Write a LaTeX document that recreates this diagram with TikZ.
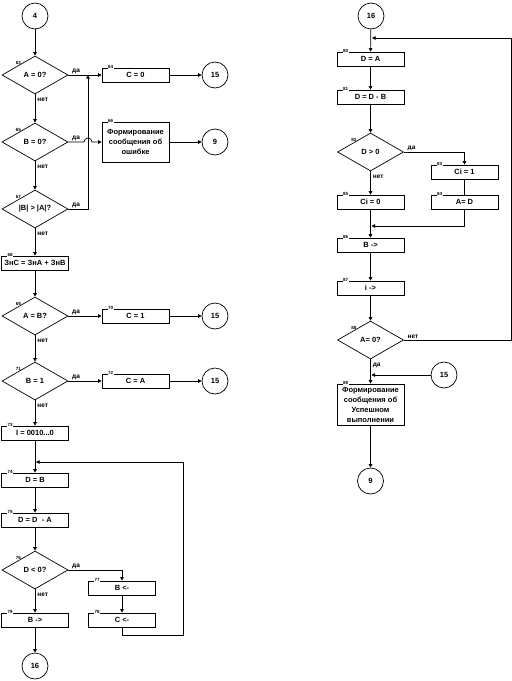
\documentclass[tikz,border=0pt]{standalone}
\usepackage{fontspec}
\setmainfont{Liberation Sans}
\usetikzlibrary{shapes.geometric,arrows.meta}
\begin{document}
\begin{tikzpicture}[x=1pt, y=-1pt, >={Triangle[length=3.5pt,width=3.5pt]}, line width=0.7pt,
    blk/.style={draw, minimum width=67pt, minimum height=14pt, inner sep=1pt, align=center, font=\bfseries\fontsize{7.5}{10}\selectfont},
    cond/.style={draw, diamond, aspect=1.7, inner sep=0pt, minimum width=66pt, minimum height=38pt, font=\bfseries\fontsize{7.5}{9}\selectfont},
    term/.style={draw, circle, inner sep=0pt, minimum size=26pt, font=\bfseries\fontsize{7.5}{9}\selectfont},
    num/.style={fill=white, inner sep=0.6pt, font=\bfseries\fontsize{4.5}{4.5}\selectfont},
    yes/.style={anchor=south west, inner sep=0.5pt, xshift=3pt, yshift=0.5pt, font=\bfseries\fontsize{6.5}{7}\selectfont},
    no/.style={pos=0, anchor=north west, inner sep=0.5pt, xshift=1.5pt, yshift=-3pt, font=\bfseries\fontsize{6.5}{7}\selectfont}]
\useasboundingbox (0,0) rectangle (512,681);
\node[term] (c4) at (35,16) {4};
\node[cond] (d63) at (35,75) {A = 0?};
\node[blk] (b64) at (135.5,75) {C = 0};
\node[term] (c15a) at (215,75) {15};
\node[cond] (d65) at (35,142) {B = 0?};
\node[blk, minimum height=40pt] (b66) at (135.5,142) {Формирование\\сообщения об\\ошибке};
\node[term] (c9a) at (215,142) {9};
\node[cond] (d67) at (35,209) {|B| > |A|?};
\node[blk] (b68) at (35,263) {ЗнС = ЗнА + ЗнВ};
\node[cond] (d69) at (35,316) {A = B?};
\node[blk] (b70) at (135.5,316) {C = 1};
\node[term] (c15b) at (215,316) {15};
\node[cond] (d71) at (35,381) {B = 1};
\node[blk] (b72) at (135.5,381) {C = A};
\node[term] (c15c) at (215,381) {15};
\node[blk] (b73) at (35,433) {I = 0010...0};
\node[blk] (b74) at (35,480) {D = B};
\node[blk] (b75) at (35,520) {D = D \ - A};
\node[cond] (d76) at (35,570) {D < 0?};
\node[blk] (b77) at (122,588) {B <-};
\node[blk] (b78) at (122,620) {C <-};
\node[blk] (b79) at (35,620) {B ->};
\node[term] (c16a) at (35,666) {16};
\node[term] (c16b) at (371,16) {16};
\node[blk] (b80) at (370.5,59) {D = A};
\node[blk] (b81) at (370.5,97) {D = D - B};
\node[cond] (d82) at (370.5,152) {D > 0};
\node[blk] (b83) at (464.5,172) {Ci = 1};
\node[blk] (b84) at (464.5,202) {A= D};
\node[blk] (b85) at (370.5,202) {Ci = 0};
\node[blk] (b86) at (370.5,245) {B ->};
\node[blk] (b87) at (370.5,288) {i ->};
\node[cond] (d88) at (370.5,340) {A= 0?};
\node[term] (c15d) at (444,375) {15};
\node[blk, minimum height=41pt] (b89) at (370.5,404.5) {Формирование\\сообщения об\\Успешном\\выполнении};
\node[term] (c9b) at (370.5,481) {9};
\foreach \b in {64,66,68,70,72,73,74,75,77,78,79,80,81,83,84,85,86,87,89}
    \node[num] (t\b) at ([xshift=9pt,yshift=1pt]b\b.north west) {\b};
\foreach \d in {63,65,67,69,71,76,82,88}
    \node[num, fill=none, anchor=south] (t\d) at (d\d.north west) {\d};
\coordinate (jmp) at (84,142);
\coordinate (j67) at (88,75);
\coordinate (j74) at (36,462);
\coordinate (r78) at (183,635);
\coordinate (j80) at (372,38);
\coordinate (j86) at (371.5,226);
\coordinate (r88) at (511.5,340);
\coordinate (j89) at (371.5,375);
\draw[->] (c4) -- (d63);
\draw[->] (d63) -- node[pos=0, yes] (y63) {да} (b64);
\draw[->] (b64) -- (c15a);
\draw[->] (d63) -- node[no] (n63) {нет} (d65);
\draw[->] (d65.east) -- node[pos=0, yes] (y65) {да} (jmp) arc[start angle=180, end angle=360, radius=4] -- (b66.west);
\draw[->] (b66) -- (c9a);
\draw[->] (d65) -- node[no] (n65) {нет} (d67);
\draw[->] (d67.east) -| node[pos=0, yes] (y67) {да} (j67);
\draw[->] (d67) -- node[no] (n67) {нет} (b68);
\draw[->] (b68) -- (d69);
\draw[->] (d69) -- node[pos=0, yes] (y69) {да} (b70);
\draw[->] (b70) -- (c15b);
\draw[->] (d69) -- node[no] (n69) {нет} (d71);
\draw[->] (d71) -- node[pos=0, yes] (y71) {да} (b72);
\draw[->] (b72) -- (c15c);
\draw[->] (d71) -- node[no] (n71) {нет} (b73);
\draw[->] (b73) -- (b74);
\draw[->] (b74) -- (b75);
\draw[->] (b75) -- (d76);
\draw[->] (d76) -| node[pos=0, yes] (y76) {да} (b77);
\draw[->] (b77) -- (b78);
\draw[->] (b78.south) |- (r78) |- (j74);
\draw[->] (d76) -- node[no] (n76) {нет} (b79);
\draw[->] (b79) -- (c16a);
\draw[->] (c16b) -- (b80);
\draw[->] (b80) -- (b81);
\draw[->] (b81) -- (d82);
\draw[->] (d82) -| node[pos=0, yes] (y82) {да} (b83);
\draw (b83) -- (b84);
\draw[->] (d82) -- node[no] (n82) {нет} (b85);
\draw[->] (b84.south) |- (j86);
\draw[->] (b85) -- (b86);
\draw[->] (b86) -- (b87);
\draw[->] (b87) -- (d88);
\draw[->] (d88.east) -- node[pos=0, yes] (n88) {нет} (r88) |- (j80);
\draw[->] (d88) -- node[no] (y88) {да} (b89);
\draw[->] (c15d) -- (j89);
\draw[->] (b89) -- (c9b);
\end{tikzpicture}
\end{document}
